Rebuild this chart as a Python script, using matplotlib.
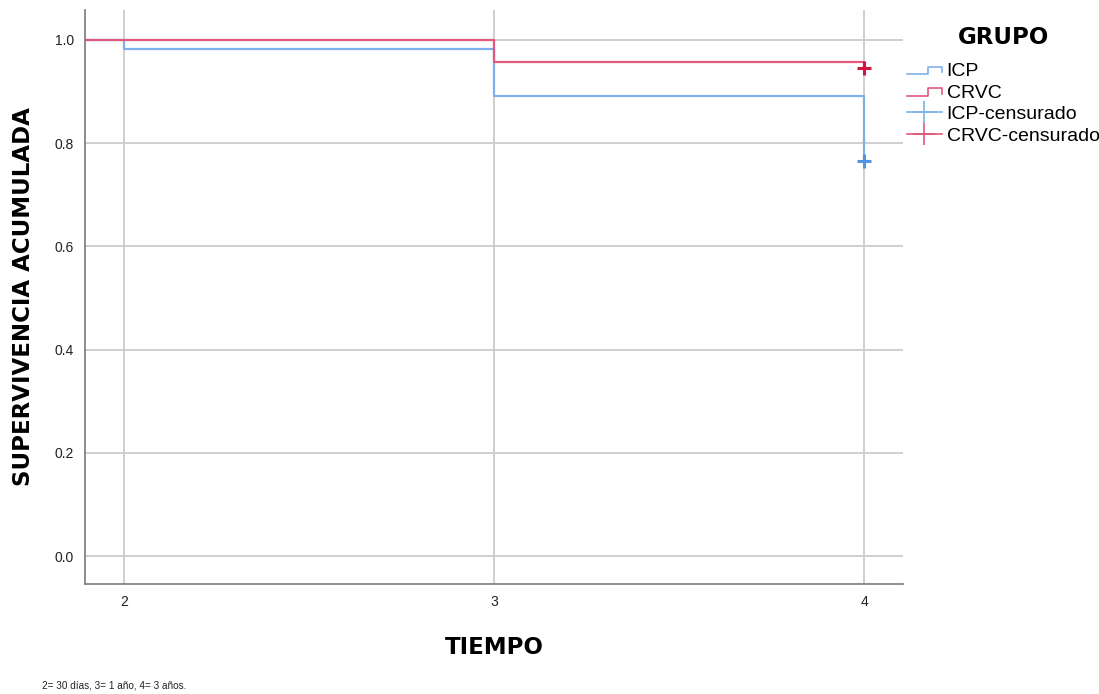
import matplotlib
matplotlib.use("Agg")
import matplotlib.pyplot as plt
from matplotlib.lines import Line2D
from matplotlib.legend_handler import HandlerBase

plt.rcParams['font.family'] = ['Liberation Sans', 'DejaVu Sans']

# datos
tiempos = [2, 3, 4]
icp_surv = [0.982, 0.891, 0.765]
crvc_surv = [1.0, 0.958, 0.945]
icp_cens_t = [4]
icp_cens_s = [0.765]
crvc_cens_t = [4]
crvc_cens_s = [0.945]
xticks = [2, 3, 4]
yticks = [0.0, 0.2, 0.4, 0.6, 0.8, 1.0]

c_icp = '#7eb0ea'
c_crvc = '#e2587c'
c_icp_m = '#4f93e4'
c_crvc_m = '#d4123f'

x0 = 1.895
x1 = 4.105

fig = plt.figure(figsize=(10.99, 6.94), dpi=100)
ax = fig.add_axes([85/1099, 110/694, 818/1099, 574/694])

ax.set_xlim(x0, x1)
ax.set_ylim(-0.054, 1.058)
ax.set_xticks(xticks)
ax.set_yticks(yticks)
ax.set_yticklabels([f"{v:.1f}" for v in yticks])
ax.grid(True, color='#cfcfcf', linewidth=1.4)
ax.set_axisbelow(True)
for s in ['top', 'right']:
    ax.spines[s].set_visible(False)
for s in ['left', 'bottom']:
    ax.spines[s].set_color('#7a7a7a')
    ax.spines[s].set_linewidth(1.2)
ax.tick_params(length=0, labelsize=10, colors='#222222', pad=8)

# curvas de supervivencia
ax.step([x0] + tiempos, [1.0] + icp_surv, where='post', color=c_icp, lw=1.6)
ax.step([x0] + tiempos, [1.0] + crvc_surv, where='post', color=c_crvc, lw=1.6)
ax.plot(icp_cens_t, icp_cens_s, '+', color=c_icp_m, ms=10, mew=2.2)
ax.plot(crvc_cens_t, crvc_cens_s, '+', color=c_crvc_m, ms=10, mew=2.2)

ax.set_xlabel('TIEMPO', fontsize=16.5, fontweight='heavy', family='DejaVu Sans', labelpad=19)
ax.set_ylabel('SUPERVIVENCIA ACUMULADA', fontsize=16.5, fontweight='heavy',
              family='DejaVu Sans', labelpad=14)


class StepHandler(HandlerBase):
    def create_artists(self, legend, orig_handle, xdescent, ydescent,
                       width, height, fontsize, trans):
        w, h = width, height
        xs = [-xdescent, -xdescent + w * 0.6, -xdescent + w * 0.6, -xdescent + w, -xdescent + w]
        ys = [h * 0.15, h * 0.15, h * 0.7, h * 0.7, h * 0.3]
        ln = Line2D(xs, ys, color=orig_handle.get_color(), lw=1.2)
        ln.set_transform(trans)
        return [ln]


h_icp = Line2D([], [], color=c_icp)
h_crvc = Line2D([], [], color=c_crvc)
h_icp_c = Line2D([], [], color=c_icp, marker='+', ms=16, mew=1.2, lw=1.2)
h_crvc_c = Line2D([], [], color=c_crvc, marker='+', ms=16, mew=1.2, lw=1.2)

leg = fig.legend([h_icp, h_crvc, h_icp_c, h_crvc_c],
                 ['ICP', 'CRVC', 'ICP-censurado', 'CRVC-censurado'],
                 handler_map={h_icp: StepHandler(), h_crvc: StepHandler()},
                 loc='upper left', bbox_to_anchor=(899/1099, 1 - 18/694),
                 frameon=False, fontsize=14, handlelength=1.8,
                 handletextpad=0.25, labelspacing=0.2, borderaxespad=0,
                 title='GRUPO',
                 title_fontproperties={'size': 16.5, 'weight': 'heavy', 'family': 'DejaVu Sans'})
leg._legend_box.sep = 10

fig.text(42/1099, 1 - 688/694, '2= 30 días, 3= 1 año, 4= 3 años.', fontsize=7.2, color='#222222')

fig.savefig('out.png', dpi=100)
